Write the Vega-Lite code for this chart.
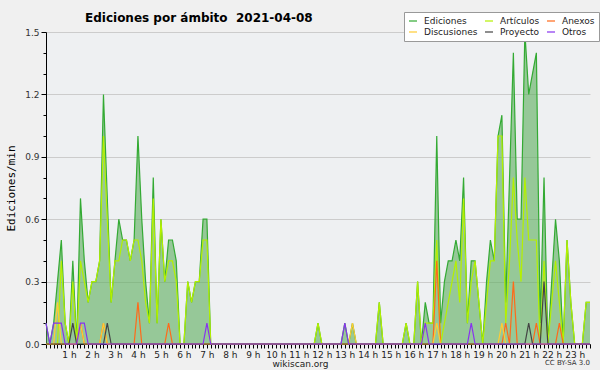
{
"$schema": "https://vega.github.io/schema/vega-lite/v6.json",
"width": 544, "height": 312,
"autosize": {"type": "none"},
"padding": {"left": 46, "top": 32, "right": 10, "bottom": 26},
"background": "#f0f0f0",
"config": {"view": {"fill": "#eef0f2", "stroke": null}, "font": "DejaVu Sans"},
"title": {"text": "Ediciones por ámbito\u00a0\u00a02021-04-08", "anchor": "start", "frame": "group", "dx": 39, "dy": 13, "offset": 0, "font": "DejaVu Sans", "fontSize": 12, "fontWeight": "bold", "color": "#000"},
"data": {"values": [
{"t":0,"Ediciones":0.1,"Artículos":0,"Anexos":0,"Discusiones":0,"Proyecto":0,"Otros":0.1},
{"t":10,"Ediciones":0,"Artículos":0,"Anexos":0,"Discusiones":0,"Proyecto":0,"Otros":0},
{"t":20,"Ediciones":0.1,"Artículos":0,"Anexos":0,"Discusiones":0,"Proyecto":0,"Otros":0.1},
{"t":30,"Ediciones":0.3,"Artículos":0,"Anexos":0,"Discusiones":0.2,"Proyecto":0,"Otros":0.1},
{"t":40,"Ediciones":0.5,"Artículos":0.4,"Anexos":0,"Discusiones":0,"Proyecto":0,"Otros":0.1},
{"t":50,"Ediciones":0.1,"Artículos":0.1,"Anexos":0,"Discusiones":0,"Proyecto":0,"Otros":0},
{"t":60,"Ediciones":0,"Artículos":0,"Anexos":0,"Discusiones":0,"Proyecto":0,"Otros":0},
{"t":70,"Ediciones":0.4,"Artículos":0.3,"Anexos":0,"Discusiones":0,"Proyecto":0.1,"Otros":0},
{"t":80,"Ediciones":0,"Artículos":0,"Anexos":0,"Discusiones":0,"Proyecto":0,"Otros":0},
{"t":90,"Ediciones":0.7,"Artículos":0.4,"Anexos":0.1,"Discusiones":0.1,"Proyecto":0,"Otros":0.1},
{"t":100,"Ediciones":0.4,"Artículos":0.3,"Anexos":0,"Discusiones":0,"Proyecto":0,"Otros":0.1},
{"t":110,"Ediciones":0.2,"Artículos":0.2,"Anexos":0,"Discusiones":0,"Proyecto":0,"Otros":0},
{"t":120,"Ediciones":0.3,"Artículos":0.3,"Anexos":0,"Discusiones":0,"Proyecto":0,"Otros":0},
{"t":130,"Ediciones":0.3,"Artículos":0.3,"Anexos":0,"Discusiones":0,"Proyecto":0,"Otros":0},
{"t":140,"Ediciones":0.4,"Artículos":0.4,"Anexos":0,"Discusiones":0,"Proyecto":0,"Otros":0},
{"t":150,"Ediciones":1.2,"Artículos":1.0,"Anexos":0.1,"Discusiones":0.1,"Proyecto":0,"Otros":0},
{"t":160,"Ediciones":0.7,"Artículos":0.6,"Anexos":0,"Discusiones":0,"Proyecto":0.1,"Otros":0},
{"t":170,"Ediciones":0.2,"Artículos":0.2,"Anexos":0,"Discusiones":0,"Proyecto":0,"Otros":0},
{"t":180,"Ediciones":0.4,"Artículos":0.4,"Anexos":0,"Discusiones":0,"Proyecto":0,"Otros":0},
{"t":190,"Ediciones":0.6,"Artículos":0.4,"Anexos":0,"Discusiones":0,"Proyecto":0,"Otros":0},
{"t":200,"Ediciones":0.5,"Artículos":0.5,"Anexos":0,"Discusiones":0,"Proyecto":0,"Otros":0},
{"t":210,"Ediciones":0.5,"Artículos":0.5,"Anexos":0,"Discusiones":0,"Proyecto":0,"Otros":0},
{"t":220,"Ediciones":0.4,"Artículos":0.4,"Anexos":0,"Discusiones":0,"Proyecto":0,"Otros":0},
{"t":230,"Ediciones":0.5,"Artículos":0.5,"Anexos":0,"Discusiones":0,"Proyecto":0,"Otros":0},
{"t":240,"Ediciones":1.0,"Artículos":0.5,"Anexos":0.2,"Discusiones":0,"Proyecto":0,"Otros":0},
{"t":250,"Ediciones":0.6,"Artículos":0.4,"Anexos":0,"Discusiones":0,"Proyecto":0,"Otros":0},
{"t":260,"Ediciones":0.3,"Artículos":0.2,"Anexos":0,"Discusiones":0,"Proyecto":0,"Otros":0},
{"t":270,"Ediciones":0.1,"Artículos":0.1,"Anexos":0,"Discusiones":0,"Proyecto":0,"Otros":0},
{"t":280,"Ediciones":0.8,"Artículos":0.7,"Anexos":0,"Discusiones":0,"Proyecto":0,"Otros":0},
{"t":290,"Ediciones":0.1,"Artículos":0.1,"Anexos":0,"Discusiones":0,"Proyecto":0,"Otros":0},
{"t":300,"Ediciones":0.6,"Artículos":0.6,"Anexos":0,"Discusiones":0,"Proyecto":0,"Otros":0},
{"t":310,"Ediciones":0.3,"Artículos":0.3,"Anexos":0,"Discusiones":0,"Proyecto":0,"Otros":0},
{"t":320,"Ediciones":0.5,"Artículos":0.4,"Anexos":0.1,"Discusiones":0,"Proyecto":0,"Otros":0},
{"t":330,"Ediciones":0.5,"Artículos":0.4,"Anexos":0,"Discusiones":0,"Proyecto":0,"Otros":0},
{"t":340,"Ediciones":0.4,"Artículos":0.3,"Anexos":0,"Discusiones":0,"Proyecto":0,"Otros":0},
{"t":350,"Ediciones":0,"Artículos":0,"Anexos":0,"Discusiones":0,"Proyecto":0,"Otros":0},
{"t":360,"Ediciones":0,"Artículos":0,"Anexos":0,"Discusiones":0,"Proyecto":0,"Otros":0},
{"t":370,"Ediciones":0.3,"Artículos":0.3,"Anexos":0,"Discusiones":0,"Proyecto":0,"Otros":0},
{"t":380,"Ediciones":0.2,"Artículos":0.2,"Anexos":0,"Discusiones":0,"Proyecto":0,"Otros":0},
{"t":390,"Ediciones":0.3,"Artículos":0.3,"Anexos":0,"Discusiones":0,"Proyecto":0,"Otros":0},
{"t":400,"Ediciones":0.3,"Artículos":0.3,"Anexos":0,"Discusiones":0,"Proyecto":0,"Otros":0},
{"t":410,"Ediciones":0.6,"Artículos":0.5,"Anexos":0,"Discusiones":0,"Proyecto":0,"Otros":0},
{"t":420,"Ediciones":0.6,"Artículos":0.5,"Anexos":0,"Discusiones":0,"Proyecto":0,"Otros":0.1},
{"t":430,"Ediciones":0,"Artículos":0,"Anexos":0,"Discusiones":0,"Proyecto":0,"Otros":0},
{"t":440,"Ediciones":0,"Artículos":0,"Anexos":0,"Discusiones":0,"Proyecto":0,"Otros":0},
{"t":450,"Ediciones":0,"Artículos":0,"Anexos":0,"Discusiones":0,"Proyecto":0,"Otros":0},
{"t":460,"Ediciones":0,"Artículos":0,"Anexos":0,"Discusiones":0,"Proyecto":0,"Otros":0},
{"t":470,"Ediciones":0,"Artículos":0,"Anexos":0,"Discusiones":0,"Proyecto":0,"Otros":0},
{"t":480,"Ediciones":0,"Artículos":0,"Anexos":0,"Discusiones":0,"Proyecto":0,"Otros":0},
{"t":490,"Ediciones":0,"Artículos":0,"Anexos":0,"Discusiones":0,"Proyecto":0,"Otros":0},
{"t":500,"Ediciones":0,"Artículos":0,"Anexos":0,"Discusiones":0,"Proyecto":0,"Otros":0},
{"t":510,"Ediciones":0,"Artículos":0,"Anexos":0,"Discusiones":0,"Proyecto":0,"Otros":0},
{"t":520,"Ediciones":0,"Artículos":0,"Anexos":0,"Discusiones":0,"Proyecto":0,"Otros":0},
{"t":530,"Ediciones":0,"Artículos":0,"Anexos":0,"Discusiones":0,"Proyecto":0,"Otros":0},
{"t":540,"Ediciones":0,"Artículos":0,"Anexos":0,"Discusiones":0,"Proyecto":0,"Otros":0},
{"t":550,"Ediciones":0,"Artículos":0,"Anexos":0,"Discusiones":0,"Proyecto":0,"Otros":0},
{"t":560,"Ediciones":0,"Artículos":0,"Anexos":0,"Discusiones":0,"Proyecto":0,"Otros":0},
{"t":570,"Ediciones":0,"Artículos":0,"Anexos":0,"Discusiones":0,"Proyecto":0,"Otros":0},
{"t":580,"Ediciones":0,"Artículos":0,"Anexos":0,"Discusiones":0,"Proyecto":0,"Otros":0},
{"t":590,"Ediciones":0,"Artículos":0,"Anexos":0,"Discusiones":0,"Proyecto":0,"Otros":0},
{"t":600,"Ediciones":0,"Artículos":0,"Anexos":0,"Discusiones":0,"Proyecto":0,"Otros":0},
{"t":610,"Ediciones":0,"Artículos":0,"Anexos":0,"Discusiones":0,"Proyecto":0,"Otros":0},
{"t":620,"Ediciones":0,"Artículos":0,"Anexos":0,"Discusiones":0,"Proyecto":0,"Otros":0},
{"t":630,"Ediciones":0,"Artículos":0,"Anexos":0,"Discusiones":0,"Proyecto":0,"Otros":0},
{"t":640,"Ediciones":0,"Artículos":0,"Anexos":0,"Discusiones":0,"Proyecto":0,"Otros":0},
{"t":650,"Ediciones":0,"Artículos":0,"Anexos":0,"Discusiones":0,"Proyecto":0,"Otros":0},
{"t":660,"Ediciones":0,"Artículos":0,"Anexos":0,"Discusiones":0,"Proyecto":0,"Otros":0},
{"t":670,"Ediciones":0,"Artículos":0,"Anexos":0,"Discusiones":0,"Proyecto":0,"Otros":0},
{"t":680,"Ediciones":0,"Artículos":0,"Anexos":0,"Discusiones":0,"Proyecto":0,"Otros":0},
{"t":690,"Ediciones":0,"Artículos":0,"Anexos":0,"Discusiones":0,"Proyecto":0,"Otros":0},
{"t":700,"Ediciones":0,"Artículos":0,"Anexos":0,"Discusiones":0,"Proyecto":0,"Otros":0},
{"t":710,"Ediciones":0.1,"Artículos":0.1,"Anexos":0,"Discusiones":0,"Proyecto":0,"Otros":0},
{"t":720,"Ediciones":0,"Artículos":0,"Anexos":0,"Discusiones":0,"Proyecto":0,"Otros":0},
{"t":730,"Ediciones":0,"Artículos":0,"Anexos":0,"Discusiones":0,"Proyecto":0,"Otros":0},
{"t":740,"Ediciones":0,"Artículos":0,"Anexos":0,"Discusiones":0,"Proyecto":0,"Otros":0},
{"t":750,"Ediciones":0,"Artículos":0,"Anexos":0,"Discusiones":0,"Proyecto":0,"Otros":0},
{"t":760,"Ediciones":0,"Artículos":0,"Anexos":0,"Discusiones":0,"Proyecto":0,"Otros":0},
{"t":770,"Ediciones":0,"Artículos":0,"Anexos":0,"Discusiones":0,"Proyecto":0,"Otros":0},
{"t":780,"Ediciones":0.1,"Artículos":0,"Anexos":0,"Discusiones":0,"Proyecto":0,"Otros":0.1},
{"t":790,"Ediciones":0,"Artículos":0,"Anexos":0,"Discusiones":0,"Proyecto":0,"Otros":0},
{"t":800,"Ediciones":0.1,"Artículos":0,"Anexos":0,"Discusiones":0.1,"Proyecto":0,"Otros":0},
{"t":810,"Ediciones":0,"Artículos":0,"Anexos":0,"Discusiones":0,"Proyecto":0,"Otros":0},
{"t":820,"Ediciones":0,"Artículos":0,"Anexos":0,"Discusiones":0,"Proyecto":0,"Otros":0},
{"t":830,"Ediciones":0,"Artículos":0,"Anexos":0,"Discusiones":0,"Proyecto":0,"Otros":0},
{"t":840,"Ediciones":0,"Artículos":0,"Anexos":0,"Discusiones":0,"Proyecto":0,"Otros":0},
{"t":850,"Ediciones":0,"Artículos":0,"Anexos":0,"Discusiones":0,"Proyecto":0,"Otros":0},
{"t":860,"Ediciones":0,"Artículos":0,"Anexos":0,"Discusiones":0,"Proyecto":0,"Otros":0},
{"t":870,"Ediciones":0.2,"Artículos":0.2,"Anexos":0,"Discusiones":0,"Proyecto":0,"Otros":0},
{"t":880,"Ediciones":0,"Artículos":0,"Anexos":0,"Discusiones":0,"Proyecto":0,"Otros":0},
{"t":890,"Ediciones":0,"Artículos":0,"Anexos":0,"Discusiones":0,"Proyecto":0,"Otros":0},
{"t":900,"Ediciones":0,"Artículos":0,"Anexos":0,"Discusiones":0,"Proyecto":0,"Otros":0},
{"t":910,"Ediciones":0,"Artículos":0,"Anexos":0,"Discusiones":0,"Proyecto":0,"Otros":0},
{"t":920,"Ediciones":0,"Artículos":0,"Anexos":0,"Discusiones":0,"Proyecto":0,"Otros":0},
{"t":930,"Ediciones":0,"Artículos":0,"Anexos":0,"Discusiones":0,"Proyecto":0,"Otros":0},
{"t":940,"Ediciones":0.1,"Artículos":0.1,"Anexos":0,"Discusiones":0,"Proyecto":0,"Otros":0},
{"t":950,"Ediciones":0,"Artículos":0,"Anexos":0,"Discusiones":0,"Proyecto":0,"Otros":0},
{"t":960,"Ediciones":0,"Artículos":0,"Anexos":0,"Discusiones":0,"Proyecto":0,"Otros":0},
{"t":970,"Ediciones":0.3,"Artículos":0.3,"Anexos":0,"Discusiones":0,"Proyecto":0,"Otros":0},
{"t":980,"Ediciones":0,"Artículos":0,"Anexos":0,"Discusiones":0,"Proyecto":0,"Otros":0},
{"t":990,"Ediciones":0.2,"Artículos":0.1,"Anexos":0,"Discusiones":0,"Proyecto":0,"Otros":0.1},
{"t":1000,"Ediciones":0.1,"Artículos":0.1,"Anexos":0,"Discusiones":0,"Proyecto":0,"Otros":0},
{"t":1010,"Ediciones":0.1,"Artículos":0.1,"Anexos":0,"Discusiones":0,"Proyecto":0,"Otros":0},
{"t":1020,"Ediciones":1.0,"Artículos":0.5,"Anexos":0.4,"Discusiones":0.1,"Proyecto":0,"Otros":0},
{"t":1030,"Ediciones":0.1,"Artículos":0,"Anexos":0,"Discusiones":0,"Proyecto":0,"Otros":0},
{"t":1040,"Ediciones":0.3,"Artículos":0.1,"Anexos":0,"Discusiones":0,"Proyecto":0,"Otros":0},
{"t":1050,"Ediciones":0.4,"Artículos":0.2,"Anexos":0,"Discusiones":0,"Proyecto":0,"Otros":0},
{"t":1060,"Ediciones":0.4,"Artículos":0.3,"Anexos":0,"Discusiones":0,"Proyecto":0,"Otros":0},
{"t":1070,"Ediciones":0.5,"Artículos":0.4,"Anexos":0,"Discusiones":0,"Proyecto":0,"Otros":0},
{"t":1080,"Ediciones":0.4,"Artículos":0.2,"Anexos":0,"Discusiones":0,"Proyecto":0,"Otros":0},
{"t":1090,"Ediciones":0.8,"Artículos":0.7,"Anexos":0,"Discusiones":0,"Proyecto":0,"Otros":0},
{"t":1100,"Ediciones":0.1,"Artículos":0.1,"Anexos":0,"Discusiones":0,"Proyecto":0,"Otros":0},
{"t":1110,"Ediciones":0.4,"Artículos":0.3,"Anexos":0,"Discusiones":0,"Proyecto":0,"Otros":0.1},
{"t":1120,"Ediciones":0.4,"Artículos":0.4,"Anexos":0,"Discusiones":0,"Proyecto":0,"Otros":0},
{"t":1130,"Ediciones":0.2,"Artículos":0.2,"Anexos":0,"Discusiones":0,"Proyecto":0,"Otros":0},
{"t":1140,"Ediciones":0,"Artículos":0,"Anexos":0,"Discusiones":0,"Proyecto":0,"Otros":0},
{"t":1150,"Ediciones":0.3,"Artículos":0.2,"Anexos":0,"Discusiones":0,"Proyecto":0,"Otros":0},
{"t":1160,"Ediciones":0.5,"Artículos":0.4,"Anexos":0,"Discusiones":0,"Proyecto":0,"Otros":0},
{"t":1170,"Ediciones":0.4,"Artículos":0.4,"Anexos":0,"Discusiones":0,"Proyecto":0,"Otros":0},
{"t":1180,"Ediciones":1.0,"Artículos":1.0,"Anexos":0,"Discusiones":0,"Proyecto":0,"Otros":0},
{"t":1190,"Ediciones":1.1,"Artículos":1.0,"Anexos":0,"Discusiones":0.1,"Proyecto":0,"Otros":0},
{"t":1200,"Ediciones":0.2,"Artículos":0.1,"Anexos":0.1,"Discusiones":0,"Proyecto":0,"Otros":0},
{"t":1210,"Ediciones":0.8,"Artículos":0.4,"Anexos":0,"Discusiones":0,"Proyecto":0,"Otros":0},
{"t":1220,"Ediciones":1.4,"Artículos":0.8,"Anexos":0.3,"Discusiones":0,"Proyecto":0,"Otros":0},
{"t":1230,"Ediciones":0.6,"Artículos":0.5,"Anexos":0,"Discusiones":0,"Proyecto":0,"Otros":0},
{"t":1240,"Ediciones":0.6,"Artículos":0.3,"Anexos":0,"Discusiones":0,"Proyecto":0,"Otros":0},
{"t":1250,"Ediciones":1.5,"Artículos":0.8,"Anexos":0,"Discusiones":0,"Proyecto":0,"Otros":0},
{"t":1260,"Ediciones":1.2,"Artículos":0.5,"Anexos":0,"Discusiones":0,"Proyecto":0.1,"Otros":0},
{"t":1270,"Ediciones":1.3,"Artículos":0.5,"Anexos":0,"Discusiones":0,"Proyecto":0,"Otros":0},
{"t":1280,"Ediciones":1.4,"Artículos":0.5,"Anexos":0.1,"Discusiones":0,"Proyecto":0,"Otros":0},
{"t":1290,"Ediciones":0.1,"Artículos":0,"Anexos":0,"Discusiones":0,"Proyecto":0,"Otros":0},
{"t":1300,"Ediciones":0.8,"Artículos":0.4,"Anexos":0,"Discusiones":0,"Proyecto":0.3,"Otros":0},
{"t":1310,"Ediciones":0,"Artículos":0,"Anexos":0,"Discusiones":0,"Proyecto":0,"Otros":0},
{"t":1320,"Ediciones":0.3,"Artículos":0.2,"Anexos":0,"Discusiones":0,"Proyecto":0,"Otros":0},
{"t":1330,"Ediciones":0.6,"Artículos":0.4,"Anexos":0,"Discusiones":0,"Proyecto":0,"Otros":0},
{"t":1340,"Ediciones":0.4,"Artículos":0.2,"Anexos":0.1,"Discusiones":0,"Proyecto":0,"Otros":0},
{"t":1350,"Ediciones":0,"Artículos":0,"Anexos":0,"Discusiones":0,"Proyecto":0,"Otros":0},
{"t":1360,"Ediciones":0.5,"Artículos":0.5,"Anexos":0,"Discusiones":0,"Proyecto":0,"Otros":0},
{"t":1370,"Ediciones":0.2,"Artículos":0.2,"Anexos":0,"Discusiones":0,"Proyecto":0,"Otros":0},
{"t":1380,"Ediciones":0,"Artículos":0,"Anexos":0,"Discusiones":0,"Proyecto":0,"Otros":0},
{"t":1390,"Ediciones":0,"Artículos":0,"Anexos":0,"Discusiones":0,"Proyecto":0,"Otros":0},
{"t":1400,"Ediciones":0,"Artículos":0,"Anexos":0,"Discusiones":0,"Proyecto":0,"Otros":0},
{"t":1410,"Ediciones":0.2,"Artículos":0.2,"Anexos":0,"Discusiones":0,"Proyecto":0,"Otros":0},
{"t":1420,"Ediciones":0.2,"Artículos":0.2,"Anexos":0,"Discusiones":0,"Proyecto":0,"Otros":0}
]},
"layer": [
{
"transform": [{"fold": ["Ediciones"], "as": ["serie", "v"]}],
"mark": {"type": "area", "color": "#5cae5c", "opacity": 0.6},
"encoding": {
"x": {"field": "t", "type": "quantitative", "scale": {"domain": [0, 1420], "nice": false, "zero": false},
"axis": {"values": [0,10,20,30,40,50,60,70,80,90,100,110,120,130,140,150,160,170,180,190,200,210,220,230,240,250,260,270,280,290,300,310,320,330,340,350,360,370,380,390,400,410,420,430,440,450,460,470,480,490,500,510,520,530,540,550,560,570,580,590,600,610,620,630,640,650,660,670,680,690,700,710,720,730,740,750,760,770,780,790,800,810,820,830,840,850,860,870,880,890,900,910,920,930,940,950,960,970,980,990,1000,1010,1020,1030,1040,1050,1060,1070,1080,1090,1100,1110,1120,1130,1140,1150,1160,1170,1180,1190,1200,1210,1220,1230,1240,1250,1260,1270,1280,1290,1300,1310,1320,1330,1340,1350,1360,1370,1380,1390,1400,1410,1420],
"tickCount": 1000,
"labelExpr": "datum.value % 60 === 0 && datum.value > 0 ? (datum.value / 60) + ' h' : ''",
"labelOverlap": false, "labelFlush": false, "labelBound": false,
"labelFontSize": 9, "labelColor": "#222", "labelPadding": 2,
"tickSize": 4, "tickColor": "#000", "domainColor": "#000", "grid": false,
"title": "wikiscan.org", "titleFontSize": 9, "titleFontWeight": "normal", "titleColor": "#222", "titleX": 254, "titlePadding": 0}},
"y": {"field": "v", "type": "quantitative", "scale": {"domain": [0, 1.5], "nice": false},
"axis": {"values": [0,0.1,0.2,0.3,0.4,0.5,0.6,0.7,0.8,0.9,1.0,1.1,1.2,1.3,1.4,1.5],
"tickCount": 1000,
"labelExpr": "round(datum.value*10) % 3 === 0 ? format(datum.value, '.1f') : ''",
"labelOverlap": false, "labelFlush": false,
"labelFontSize": 9, "labelColor": "#333", "labelPadding": 2,
"tickSize": {"condition": {"test": "round(datum.value*10) % 3 === 0", "value": 5}, "value": 3},
"tickColor": "#000", "domainColor": "#000",
"gridColor": {"condition": {"test": "round(datum.value*10) % 3 === 0 && datum.value > 0", "value": "#cccccc"}, "value": "transparent"},
"title": "Ediciones/min", "titleFont": "DejaVu Sans Mono", "titleFontSize": 11, "titleFontWeight": "normal", "titleColor": "#000", "titlePadding": 8}}
}
},
{
"transform": [{"fold": ["Ediciones", "Artículos", "Anexos", "Discusiones", "Proyecto", "Otros"], "as": ["serie", "v"]}],
"mark": {"type": "line", "strokeWidth": 1.2},
"encoding": {
"x": {"field": "t", "type": "quantitative"},
"y": {"field": "v", "type": "quantitative"},
"color": {"field": "serie", "type": "nominal",
"scale": {"domain": ["Ediciones", "Artículos", "Anexos", "Discusiones", "Proyecto", "Otros"], "range": ["#33aa33", "#b4f000", "#ff6a1a", "#ffcc33", "#444444", "#8833ee"]},
"legend": {"orient": "none", "legendX": 358, "legendY": -20, "direction": "horizontal", "columns": 3, "title": null,
"symbolType": "stroke", "symbolSize": 64, "symbolStrokeWidth": 1.2, "labelFontSize": 9, "labelColor": "#222",
"fillColor": "#ffffff", "strokeColor": "#999999", "padding": 4, "rowPadding": 1, "columnPadding": 4, "labelOffset": 6}}
}
},
{
"data": {"values": [{}]},
"mark": {"type": "text", "align": "right", "baseline": "alphabetic", "dy": 21, "fontSize": 7, "color": "#333"},
"encoding": {"x": {"datum": 1420}, "y": {"datum": 0}, "text": {"value": "CC BY-SA 3.0"}}
}
]
}
